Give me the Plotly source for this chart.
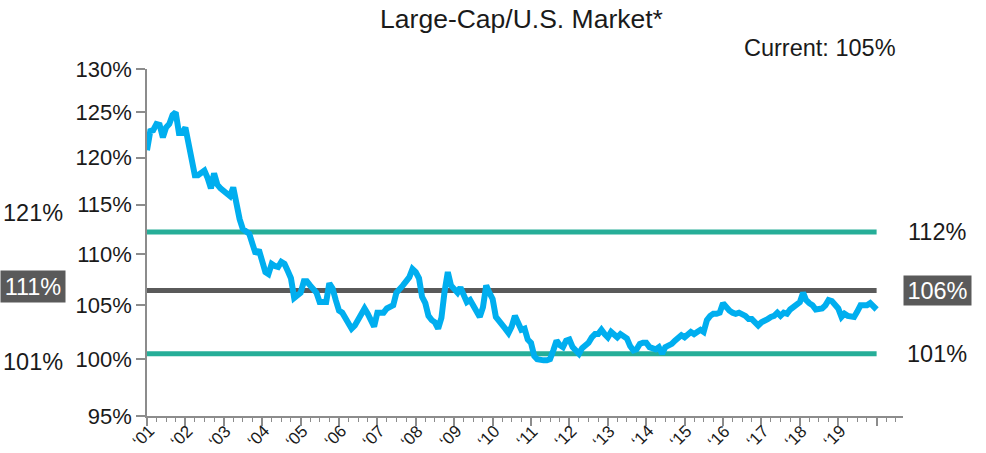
import numpy as np
import pandas as pd
import plotly.graph_objects as go

# ---- data (monthly, Jan 2001 .. Jan 2020), ratio in % ----
start_month = "2001-01-01"
ratio_values = [
    120.8, 122.9, 123.0, 123.7, 123.6, 122.2, 123.3, 123.7, 124.7, 125.0, 122.7, 122.7,
    123.3, 121.5, 119.7, 118.1, 118.1, 118.4, 118.6, 117.8, 116.7, 118.3, 117.1, 116.7,
    116.4, 116.1, 115.9, 116.8, 114.7, 113.5, 112.5, 112.2, 112.0, 111.0, 110.0, 110.4,
    109.4, 108.2, 108.0, 109.0, 108.8, 108.7, 109.2, 109.0, 108.3, 107.6, 105.7, 105.9,
    106.2, 107.3, 107.3, 106.9, 106.6, 106.2, 105.3, 105.3, 105.3, 107.1, 106.6, 105.5,
    104.5, 104.3, 103.9, 103.3, 102.8, 103.1, 103.6, 104.2, 104.7, 104.2, 103.6, 103.0,
    104.3, 104.3, 104.3, 104.7, 104.8, 105.0, 106.2, 106.5, 106.9, 107.3, 107.7, 108.5,
    108.2, 107.6, 105.8, 105.2, 104.0, 103.6, 103.4, 102.8, 103.8, 106.3, 108.2, 106.9,
    106.5, 106.2, 106.7, 106.0, 105.3, 105.5, 105.0, 104.5, 103.9, 104.8, 106.9, 106.2,
    105.6, 103.9, 103.6, 103.3, 102.8, 102.4, 103.0, 104.0, 103.2, 102.7, 102.8, 101.8,
    101.5, 100.3, 100.0, 99.9, 99.9, 99.9, 100.0, 100.8, 101.7, 101.3, 101.1, 101.7,
    101.8, 101.1, 100.7, 100.5, 101.0, 101.3, 101.5, 102.0, 102.3, 102.3, 102.7, 102.3,
    102.0, 102.5, 102.2, 102.0, 102.3, 102.1, 101.9, 101.2, 100.8, 100.9, 101.4, 101.5,
    101.5, 101.1, 101.0, 100.9, 101.1, 100.5, 101.1, 101.2, 101.4, 101.7, 102.0, 102.2,
    102.0, 102.3, 102.5, 102.3, 102.5, 102.7, 102.5, 103.6, 104.0, 104.2, 104.2, 104.3,
    105.2, 104.8, 104.5, 104.3, 104.2, 104.3, 104.2, 104.0, 103.7, 103.7, 103.4, 103.1,
    103.4, 103.5, 103.7, 103.9, 104.0, 104.3, 104.0, 104.3, 104.2, 104.6, 104.8, 105.0,
    105.3, 106.2, 105.5, 105.2, 105.0, 104.6, 104.6, 104.7, 105.0, 105.5, 105.4, 105.0,
    104.7, 103.9, 104.2, 104.0, 103.9, 103.9, 104.4, 105.0, 105.0, 105.0, 105.2, 104.9,
    104.6,
]
band_avg = 106.4
band_upper = 112.2
band_lower = 100.5

left_labels = ["121%", "111%", "101%"]
right_labels = ["112%", "106%", "101%"]
current_label = "Current: 105%"
title_text = "Large-Cap/U.S. Market*"

year_ticks = list(range(2001, 2021))
year_labels = ["\u2018%02d" % (y % 100) for y in range(2001, 2020)]
y_tick_values = [95, 100, 105, 110, 115, 120, 125, 130]
y_tick_text = ["%d%%" % v for v in y_tick_values]

# ---- build ----
dates = pd.date_range(start=start_month, periods=len(ratio_values), freq="MS")
x_end = dates[-1]

BLUE = "#00AEEF"
TEAL = "#26AE98"
DARK = "#5A5A5A"
AXIS = "#8C8C8C"
TXT = "#1a1a1a"
FONT = "Liberation Sans, Arial, sans-serif"

W, H = 986, 453
ML, MT = 147, 69
PLOT_W, PLOT_H = 756, 347

fig = go.Figure()
for val, col in [(band_upper, TEAL), (band_lower, TEAL), (band_avg, DARK)]:
    fig.add_trace(go.Scatter(x=[dates[0], x_end], y=[val, val], mode="lines",
                             line=dict(color=col, width=5), hoverinfo="skip",
                             showlegend=False))
fig.add_trace(go.Scatter(x=dates, y=ratio_values, mode="lines",
                         line=dict(color=BLUE, width=6, shape="linear"),
                         showlegend=False))

fig.update_layout(
    width=W, height=H,
    margin=dict(l=ML, r=W - ML - PLOT_W, t=MT, b=H - MT - PLOT_H),
    paper_bgcolor="white", plot_bgcolor="white",
    font=dict(family=FONT, color=TXT),
    title=dict(text=title_text, x=521.5 / W, xanchor="center", y=1 - 19 / H,
               yanchor="middle", font=dict(size=26.5, family=FONT, color=TXT)),
    showlegend=False,
)

fig.update_xaxes(
    type="date",
    range=["2001-01-01", "2020-09-08"],
    tickmode="array",
    tickvals=[pd.Timestamp(f"{y}-01-01") for y in year_ticks],
    showticklabels=False,
    ticks="outside", ticklen=8, tickwidth=1.5, tickcolor=AXIS,
    minor=dict(dtick="M3", tick0="2001-01-01", ticks="outside", ticklen=4,
               tickwidth=1.2, tickcolor=AXIS, showgrid=False),
    showline=True, linecolor=AXIS, linewidth=1.5,
    showgrid=False, zeroline=False, automargin=False,
)

fig.update_yaxes(
    type="log",
    range=[np.log10(95), np.log10(130)],
    tickmode="array",
    tickvals=y_tick_values,
    ticktext=y_tick_text,
    tickfont=dict(size=22, family=FONT, color=TXT),
    ticks="outside", ticklen=9, tickwidth=1.5, tickcolor=AXIS,
    showline=True, linecolor=AXIS, linewidth=1.5,
    showgrid=False, zeroline=False, automargin=False,
)

annotations = []
# rotated year labels under the major ticks
for y, lab in zip(year_ticks, year_labels):
    annotations.append(dict(
        x=pd.Timestamp(f"{y}-01-01"), xref="x", y=0, yref="paper",
        text=lab, showarrow=False, textangle=-45,
        xanchor="center", yanchor="middle", xshift=-4, yshift=-20,
        font=dict(size=17, family=FONT, color=TXT),
    ))
# left side labels
left_y = [0.585, 0.372, 0.156]
for i, (txt, yy) in enumerate(zip(left_labels, left_y)):
    boxed = i == 1
    annotations.append(dict(
        xref="paper", yref="paper", x=0, y=yy, xshift=-114, showarrow=False,
        text=txt, xanchor="center", yanchor="middle",
        font=dict(size=23.5, family=FONT, color="white" if boxed else TXT),
        bgcolor=DARK if boxed else None,
        width=64 if boxed else None, height=31 if boxed else None,
        borderpad=0,
    ))
# right side labels
for i, (txt, val) in enumerate(zip(right_labels, [band_upper, band_avg, band_lower])):
    boxed = i == 1
    annotations.append(dict(
        xref="paper", yref="y", x=1, y=np.log10(val), xshift=34, showarrow=False,
        text=txt, xanchor="center", yanchor="middle",
        font=dict(size=23.5, family=FONT, color="white" if boxed else TXT),
        bgcolor=DARK if boxed else None,
        width=67 if boxed else None, height=29 if boxed else None,
        borderpad=0,
    ))
annotations.append(dict(
    xref="paper", yref="paper", x=(898 - ML) / PLOT_W, y=(416 - 48) / PLOT_H,
    showarrow=False, text=current_label, xanchor="right", yanchor="middle",
    font=dict(size=23.5, family=FONT, color=TXT),
))
fig.update_layout(annotations=annotations)

# remove the browser's default 8px page margin so the figure fills the window
fig.write_html("out.html", config={"displayModeBar": False},
               post_script="document.body.style.margin='0';document.documentElement.style.overflow='hidden';")
